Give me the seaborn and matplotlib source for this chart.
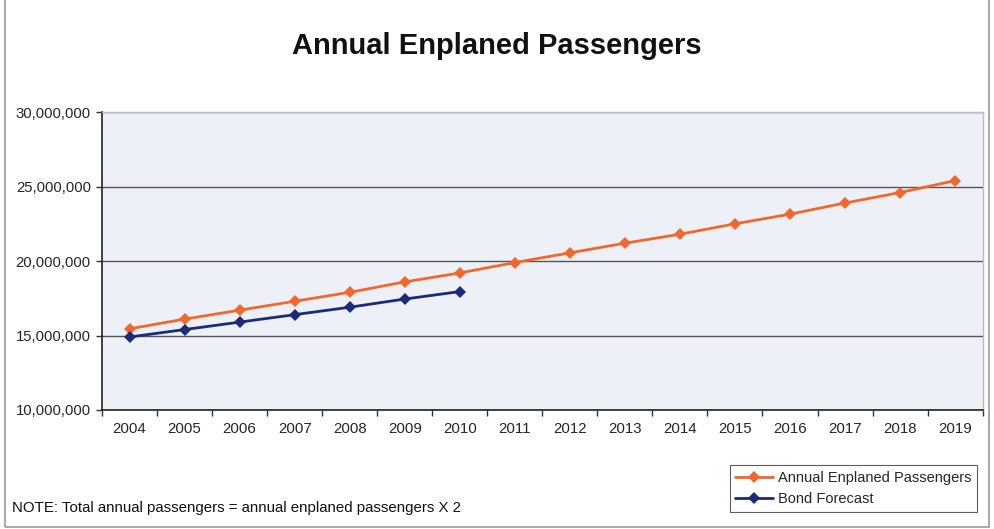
import matplotlib
matplotlib.use("Agg")
import matplotlib.pyplot as plt
import seaborn as sns
import pandas as pd
from matplotlib.ticker import FuncFormatter, FixedLocator
from matplotlib.patches import Rectangle

years = list(range(2004, 2020))
enplaned = [15.45e6, 16.1e6, 16.7e6, 17.3e6, 17.9e6, 18.6e6, 19.2e6, 19.9e6,
            20.55e6, 21.2e6, 21.8e6, 22.5e6, 23.15e6, 23.9e6, 24.6e6, 25.4e6]
bond_years = list(range(2004, 2011))
bond = [14.9e6, 15.4e6, 15.9e6, 16.4e6, 16.9e6, 17.45e6, 17.95e6]

s1 = "Annual Enplaned Passengers"
s2 = "Bond Forecast"
df = pd.concat([
    pd.DataFrame({"idx": [years.index(y) for y in years], "value": enplaned, "series": s1}),
    pd.DataFrame({"idx": [years.index(y) for y in bond_years], "value": bond, "series": s2}),
])

sns.set_style("white")
plt.rcParams["font.family"] = ["Liberation Sans", "DejaVu Sans"]

fig = plt.figure(figsize=(9.94, 5.29), dpi=100)
ax = fig.add_axes([0.1026, 0.225, 0.886, 0.563])
ax.set_facecolor("#eef0f7")

sns.lineplot(data=df, x="idx", y="value", hue="series", style="series",
             palette={s1: "#f0682e", s2: "#1c2a78"},
             markers={s1: "D", s2: "D"}, dashes=False, markersize=6,
             markeredgewidth=0, linewidth=2, ax=ax, legend=True)

ax.set_xlim(-0.5, len(years) - 0.5)
ax.set_ylim(10e6, 30e6)
ax.set_yticks([10e6, 15e6, 20e6, 25e6, 30e6])
ax.yaxis.set_major_formatter(FuncFormatter(lambda v, p: f"{int(v):,}"))
ax.set_xticks(range(len(years)))
ax.set_xticklabels([str(y) for y in years])
ax.xaxis.set_minor_locator(FixedLocator([i - 0.5 for i in range(len(years) + 1)]))
ax.tick_params(axis="x", which="major", length=0, pad=9, labelsize=10.8)
ax.tick_params(axis="x", which="minor", length=4, width=1, color="#333333", direction="out", bottom=True)
ax.tick_params(axis="y", length=4, width=1, color="#333333", direction="out", left=True, labelsize=10.7, pad=4)
ax.set_xlabel("")
ax.set_ylabel("")

ax.yaxis.grid(True, color="#555555", linewidth=1)
ax.set_axisbelow(True)
for side in ["left", "bottom"]:
    ax.spines[side].set_color("#222222")
    ax.spines[side].set_linewidth(1.2)
for side in ["top", "right"]:
    ax.spines[side].set_color("#b8bcc8")
    ax.spines[side].set_linewidth(1)

leg = ax.legend(loc="upper left", bbox_to_anchor=(0.734, 0.121), bbox_transform=fig.transFigure,
                frameon=True, fancybox=False, edgecolor="#333333", fontsize=10.5,
                handlelength=2.6, handletextpad=0.3, borderpad=0.4, labelspacing=0.5,
                borderaxespad=0)
leg.get_frame().set_linewidth(0.8)
leg.set_title(None)

fig.text(0.5, 0.913, "Annual Enplaned Passengers", ha="center", va="center",
         fontsize=21, fontweight="bold", color="#111111")
fig.text(0.012, 0.04, "NOTE: Total annual passengers = annual enplaned passengers X 2",
         ha="left", va="center", fontsize=10.8, color="#111111")

fig.patches.append(Rectangle((0.005, 0.003), 0.99, 1.1, transform=fig.transFigure,
                             fill=False, edgecolor="#9a9a9a", linewidth=1.2))

fig.savefig("out.png", dpi=100)
